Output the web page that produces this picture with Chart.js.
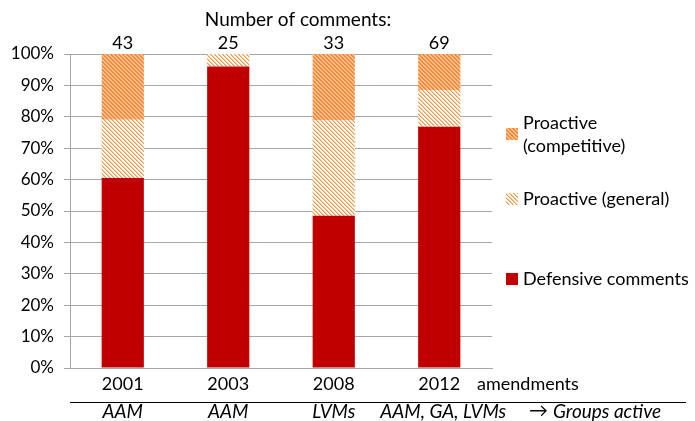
<!DOCTYPE html>
<html>
<head>
<meta charset="utf-8">
<script src="https://cdn.jsdelivr.net/npm/chart.js@4/dist/chart.umd.min.js"></script>
<style>
  html, body { margin: 0; padding: 0; background: #ffffff; }
  #wrap { width: 695px; height: 421px; }
</style>
</head>
<body>
<div id="wrap"><canvas id="c" width="695" height="421"></canvas></div>
<script>
// ---- data ----
const categories = ['2001', '2003', '2008', '2012'];
const defensive = [60.5, 96.0, 48.5, 76.8];
const proactiveGeneral = [18.6, 4.0, 30.3, 11.6];
const proactiveCompetitive = [20.9, 0.0, 21.2, 11.6];
const commentCounts = ['43', '25', '33', '69'];
const groupsActive = ['AAM', 'AAM', 'LVMs', 'AAM, GA, LVMs'];
const seriesNames = ['Defensive comments', 'Proactive (general)', 'Proactive (competitive)'];

const FONT = 'Lato, "Open Sans", sans-serif';

function makePattern(fg, mid, bg, thick) {
  const c = document.createElement('canvas');
  c.width = 4; c.height = 4;
  const g = c.getContext('2d');
  g.fillStyle = bg; g.fillRect(0, 0, 4, 4);
  for (let yy = 0; yy < 4; yy++) {
    for (let xx = 0; xx < 4; xx++) {
      const d = ((xx - yy) % 4 + 4) % 4;
      if (d === 0 || (thick && d === 1)) { g.fillStyle = fg; g.fillRect(xx, yy, 1, 1); }
      else if (mid && d === 1) { g.fillStyle = mid; g.fillRect(xx, yy, 1, 1); }
    }
  }
  return g.createPattern(c, 'repeat');
}

const redFill = '#C00000';
const generalFill = makePattern('#F79646', '#FBC8A0', '#FFFFFF', false);
const competitiveFill = makePattern('#F38A3A', null, '#FAC090', true);
const fills = [redFill, generalFill, competitiveFill];

const extras = {
  id: 'extras',
  afterDraw(chart) {
    const ctx = chart.ctx;
    const x = chart.scales.x;
    ctx.save();
    ctx.fillStyle = '#000000';
    ctx.textBaseline = 'middle';
    ctx.textAlign = 'center';
    ctx.font = '19px ' + FONT;
    ctx.fillText('Number of comments:', 298, 20);
    ctx.font = '18px ' + FONT;
    commentCounts.forEach((c, i) => ctx.fillText(c, x.getPixelForValue(i), 43));
    ctx.textAlign = 'left';
    ctx.fillText('amendments', 477, 384);
    ctx.strokeStyle = '#000000';
    ctx.lineWidth = 1;
    ctx.beginPath();
    ctx.moveTo(70, 402.5);
    ctx.lineTo(686, 402.5);
    ctx.stroke();
    ctx.font = 'italic 19px ' + FONT;
    ctx.textAlign = 'center';
    groupsActive.forEach((g, i) => ctx.fillText(g, x.getPixelForValue(i) + (i === 3 ? 4 : 0), 412));
    ctx.textAlign = 'left';
    ctx.fillText('\u2192', 529, 411);
    ctx.fillText('Groups active', 553, 412);
    // legend
    ctx.font = '18px ' + FONT;
    const lx = 506, tx = 523;
    ctx.fillStyle = competitiveFill; ctx.fillRect(lx, 128, 12, 12);
    ctx.fillStyle = generalFill; ctx.fillRect(lx, 193, 12, 12);
    ctx.fillStyle = redFill; ctx.fillRect(lx, 273, 12, 12);
    ctx.fillStyle = '#000000';
    ctx.fillText('Proactive', tx, 123);
    ctx.fillText('(competitive)', tx, 146);
    ctx.fillText(seriesNames[1], tx, 199);
    ctx.fillText(seriesNames[0], tx, 279);
    ctx.restore();
  }
};

new Chart(document.getElementById('c'), {
  type: 'bar',
  data: {
    labels: categories,
    datasets: [
      { label: seriesNames[0], data: defensive, backgroundColor: fills[0], borderWidth: 0 },
      { label: seriesNames[1], data: proactiveGeneral, backgroundColor: fills[1], borderWidth: 0 },
      { label: seriesNames[2], data: proactiveCompetitive, backgroundColor: fills[2], borderWidth: 0 }
    ]
  },
  options: {
    responsive: false,
    animation: false,
    devicePixelRatio: 1,
    layout: { padding: { top: 54, right: 203, bottom: 0, left: 0 } },
    datasets: { bar: { categoryPercentage: 1.0, barPercentage: 0.4 } },
    plugins: { legend: { display: false }, tooltip: { enabled: false } },
    scales: {
      x: {
        stacked: true,
        grid: { display: false, drawTicks: false, tickLength: 0 },
        border: { display: true, color: '#A6A6A6', width: 1 },
        ticks: { color: '#000000', font: { family: FONT, size: 18 }, padding: 5, maxRotation: 0 },
        afterFit(s) { s.height = 53; }
      },
      y: {
        stacked: true,
        min: 0, max: 100,
        grid: { color: '#A6A6A6', lineWidth: 1, tickLength: 6, drawTicks: true },
        border: { display: true, color: '#A6A6A6', width: 1 },
        ticks: {
          stepSize: 10, color: '#000000', padding: 10,
          font: { family: FONT, size: 17 },
          callback: v => v + '%'
        },
        afterFit(s) { s.width = 70; }
      }
    }
  },
  plugins: [extras]
});
</script>
</body>
</html>
